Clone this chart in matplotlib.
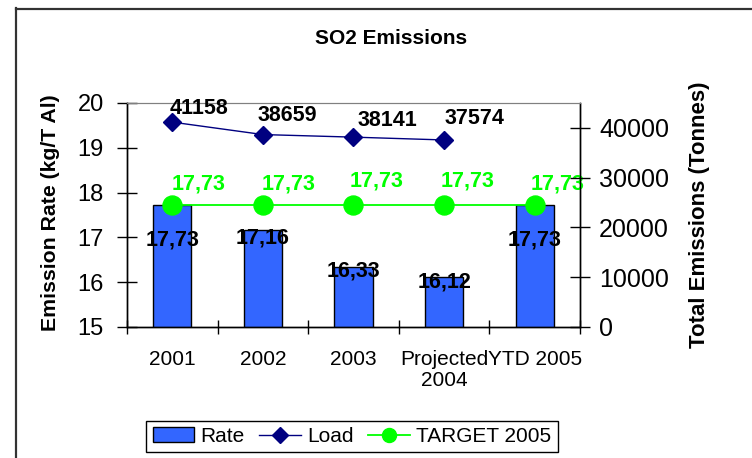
import matplotlib
matplotlib.use("Agg")
import matplotlib.pyplot as plt
from matplotlib.lines import Line2D
from matplotlib.patches import Patch

plt.rcParams['font.family'] = ['Liberation Sans', 'DejaVu Sans']

categories = ["2001", "2002", "2003", "Projected\n2004", "YTD 2005"]
rate = [17.73, 17.16, 16.33, 16.12, 17.73]
load = [41158, 38659, 38141, 37574]
target = [17.73, 17.73, 17.73, 17.73, 17.73]
rate_labels = ["17,73", "17,16", "16,33", "16,12", "17,73"]
load_labels = ["41158", "38659", "38141", "37574"]
target_labels = ["17,73", "17,73", "17,73", "17,73", "17,73"]
left_ticks = [15, 16, 17, 18, 19, 20]
right_ticks = [0, 10000, 20000, 30000, 40000]

W, H, DPI = 752, 458, 100
fig = plt.figure(figsize=(W / DPI, H / DPI), dpi=DPI)

def px(v):
    return v * 72.0 / DPI

# axes placement in pixels
L, R, T, B = 127, 580, 103, 327
ax = fig.add_axes([L / W, (H - B) / H, (R - L) / W, (B - T) / H])
ax2 = ax.twinx()

x = list(range(len(categories)))
BAR = '#3366FF'
NAVY = '#000080'
GREEN = '#00FF00'

ax.bar(x, rate, width=0.42, color=BAR, edgecolor='black', linewidth=1.0, zorder=2)
ax.plot(x, target, color=GREEN, lw=1.3, marker='o', ms=px(19), mec=GREEN, zorder=3)
ax2.plot(x[:len(load)], load, color=NAVY, lw=1.0, marker='D', ms=px(13), mec=NAVY, zorder=3)

ax.set_xlim(-0.5, len(categories) - 0.5)
ax.set_ylim(15, 20)
ax.set_yticks(left_ticks)
ax2.set_ylim(0, 45000)
ax2.set_yticks(right_ticks)

ax.set_xticks(x)
ax.set_xticklabels(categories, fontsize=15, linespacing=1.1)
ax.set_xticks([i - 0.5 for i in range(len(categories) + 1)], minor=True)
ax.tick_params(axis='x', which='major', length=0, pad=px(23))
ax.tick_params(axis='x', which='minor', direction='inout', length=px(14), width=1)
ax.tick_params(axis='y', direction='inout', length=px(20), width=1, labelsize=17, pad=px(13))
ax2.tick_params(axis='y', direction='inout', length=px(20), width=1, labelsize=18, pad=px(9))

for a in (ax, ax2):
    a.spines['top'].set_color('#808080')
    for s in ('left', 'right', 'bottom'):
        a.spines[s].set_color('black')
        a.spines[s].set_linewidth(1.0)

# data labels
bar_off = [35, 8, 4, 5, 35]
for i, (v, lab) in enumerate(zip(rate, rate_labels)):
    ax.annotate(lab, (x[i], v), xytext=(0, -px(bar_off[i])), textcoords='offset points',
                ha='center', va='center', fontsize=15.5, fontweight='bold', color='black', zorder=5)

load_off = [(-3, 3), (-5, 9), (4, 6), (0, 11)]
for i, (v, lab) in enumerate(zip(load, load_labels)):
    dx, dy = load_off[i]
    ax2.annotate(lab, (x[i], v), xytext=(px(dx), px(dy)), textcoords='offset points',
                 ha='left', va='bottom', fontsize=15.5, fontweight='bold', color='black', zorder=5)

tgt_off = [(-1, 10), (-1, 10), (-4, 13), (-3, 13), (-4, 10)]
for i, (v, lab) in enumerate(zip(target, target_labels)):
    dx, dy = tgt_off[i]
    ax.annotate(lab, (x[i], v), xytext=(px(dx), px(dy)), textcoords='offset points',
                ha='left', va='bottom', fontsize=15.5, fontweight='bold', color=GREEN,
                zorder=5, annotation_clip=False)

# titles / axis labels
fig.text(391 / W, 1 - 39 / H, "SO2 Emissions", ha='center', va='center',
         fontsize=15, fontweight='bold')
fig.text(51 / W, 1 - 213 / H, "Emission Rate (kg/T Al)", ha='center', va='center',
         rotation=90, fontsize=15.3, fontweight='bold')
fig.text(699 / W, 1 - 215 / H, "Total Emissions (Tonnes)", ha='center', va='center',
         rotation=90, fontsize=16, fontweight='bold')

# legend
handles = [Patch(facecolor=BAR, edgecolor='black', linewidth=1.0),
           Line2D([], [], color=NAVY, lw=1.0, marker='D', ms=px(11), mec=NAVY),
           Line2D([], [], color=GREEN, lw=1.3, marker='o', ms=px(14), mec=GREEN)]
leg = fig.legend(handles, ["Rate", "Load", "TARGET 2005"], ncol=3, loc='center',
                 bbox_to_anchor=(352 / W, 1 - 436.5 / H), fontsize=15,
                 frameon=True, fancybox=False, edgecolor='black', framealpha=1,
                 handlelength=2.0, handletextpad=0.3, columnspacing=0.7,
                 borderpad=0.3, handleheight=0.7)
leg.get_frame().set_linewidth(1.0)

# outer chart border
fig.add_artist(Line2D([16 / W, 16 / W], [0, 1 - 8 / H], transform=fig.transFigure,
                      color='#333333', lw=px(2.2)))
fig.add_artist(Line2D([16 / W, 1], [1 - 9 / H, 1 - 9 / H], transform=fig.transFigure,
                      color='#333333', lw=px(2.2)))

fig.savefig("out.png", dpi=DPI)
